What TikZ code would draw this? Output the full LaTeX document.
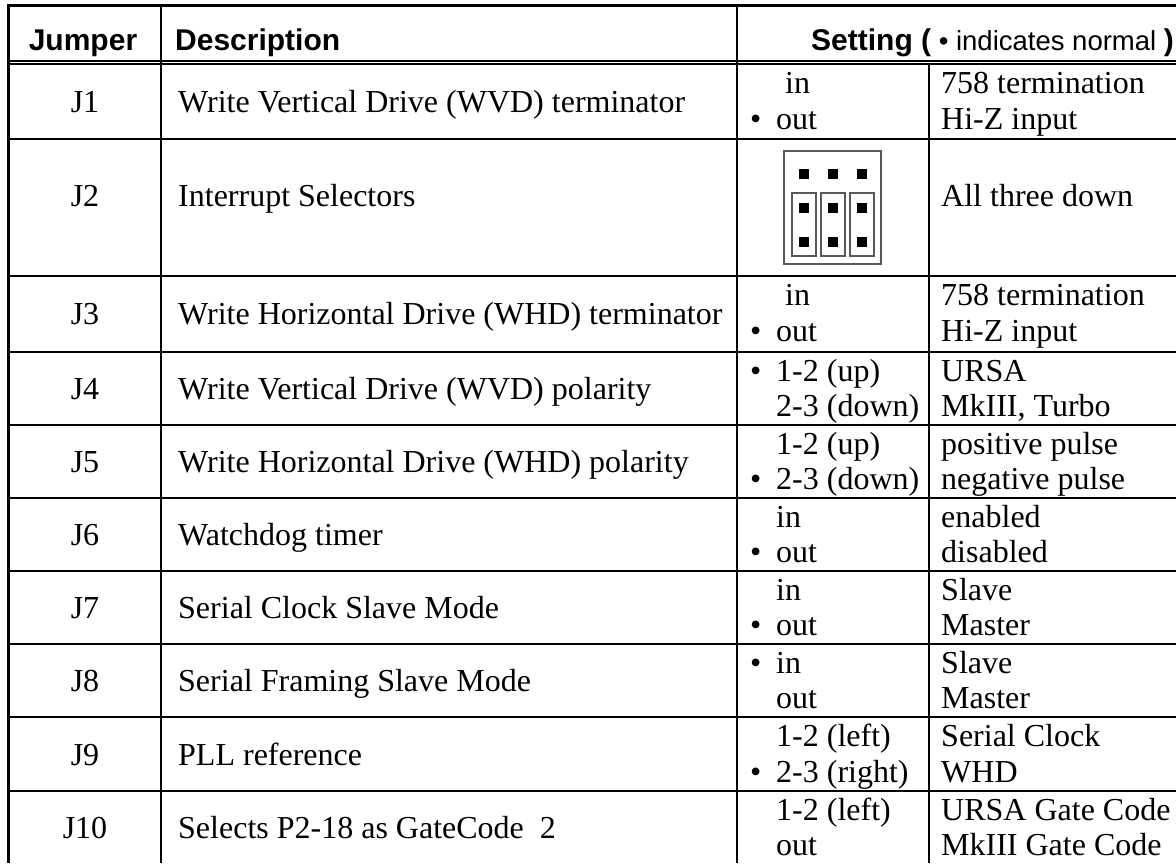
\documentclass[tikz,border=0pt]{standalone}
\usepackage{fontspec}
\setmainfont{Liberation Serif}
\setsansfont{Liberation Sans}
\newcommand{\bul}{\makebox[26pt][l]{•}}
\begin{document}
\begin{tikzpicture}[x=1pt,y=-1pt,
  thin line/.style={line width=1.1pt,black},
  thick border/.style={line width=3pt,black},
  body/.style={inner sep=0pt,font=\fontsize{32}{36}\selectfont},
  head/.style={inner sep=0pt,font=\fontsize{30}{34}\selectfont\sffamily},
  lbl/.style={body,anchor=base},
  txt/.style={body,anchor=base west},
  pinbox/.style={draw=black!65,line width=1.1pt},
  pin/.style={fill=black,minimum size=10pt,inner sep=0pt}
]
\useasboundingbox (0,0) rectangle (1176,863);
% outer thick border
\draw[thick border] (7,5.5) -- (1176,5.5);
\draw[thick border] (8.5,4) -- (8.5,863);
% header double line
\draw[thin line] (10,61) -- (1176,61);
\draw[thin line] (10,64) -- (1176,64);
% vertical lines
\draw[thin line] (161,7) -- (161,863);
\draw[thin line] (737,7) -- (737,863);
\draw[thin line] (929,64) -- (929,863);
% row lines
\foreach \yy in {139,276,352,425,498,571,644,717,791}
  \draw[thin line] (10,\yy) -- (1176,\yy);

% header
\node[head,anchor=base] (hJ) at (83,50) {\textbf{Jumper}};
\node[head,anchor=base west] (hD) at (175,50) {\textbf{Description}};
\node[head,anchor=base west] (hS) at (811,50) {\textbf{Setting (}{\fontsize{27.5}{30}\selectfont{} • indicates normal }\textbf{)}};

% J1
\node[lbl] (j1) at (85,112) {J1};
\node[txt] (d1) at (178,112) {Write Vertical Drive (WVD) terminator};
\node[txt] (s1a) at (785,93) {in};
\node[txt] (s1b) at (750,129) {\bul out};
\node[txt] (m1a) at (941,93) {758 termination};
\node[txt] (m1b) at (941,129) {Hi-Z input};

% J2
\node[lbl] (j2) at (85,206) {J2};
\node[txt] (d2) at (178,206) {Interrupt Selectors};
\node[txt] (m2) at (941,206) {All three down};
\draw[pinbox] (784,151) rectangle (881,264);
\draw[pinbox] (792,193) rectangle (816,256);
\draw[pinbox] (821,193) rectangle (845,256);
\draw[pinbox] (850,193) rectangle (874,256);
\foreach \px/\pn in {804/a,833/b,862/c}{
  \node[pin] (pt\pn) at (\px,174) {};
  \node[pin] (pm\pn) at (\px,208) {};
  \node[pin] (pb\pn) at (\px,242) {};
}

% J3
\node[lbl] (j3) at (85,324) {J3};
\node[txt] (d3) at (178,324) {Write Horizontal Drive (WHD) terminator};
\node[txt] (s3a) at (785,305) {in};
\node[txt] (s3b) at (750,341) {\bul out};
\node[txt] (m3a) at (941,305) {758 termination};
\node[txt] (m3b) at (941,341) {Hi-Z input};

% J4
\node[lbl] (j4) at (85,399) {J4};
\node[txt] (d4) at (178,399) {Write Vertical Drive (WVD) polarity};
\node[txt] (s4a) at (750,381) {\bul 1-2 (up)};
\node[txt] (s4b) at (776,416) {2-3 (down)};
\node[txt] (m4a) at (941,381) {URSA};
\node[txt] (m4b) at (941,416) {MkIII, Turbo};

% J5
\node[lbl] (j5) at (85,472) {J5};
\node[txt] (d5) at (178,472) {Write Horizontal Drive (WHD) polarity};
\node[txt] (s5a) at (776,454) {1-2 (up)};
\node[txt] (s5b) at (750,489) {\bul 2-3 (down)};
\node[txt] (m5a) at (941,454) {positive pulse};
\node[txt] (m5b) at (941,489) {negative pulse};

% J6
\node[lbl] (j6) at (85,545) {J6};
\node[txt] (d6) at (178,545) {Watchdog timer};
\node[txt] (s6a) at (776,527) {in};
\node[txt] (s6b) at (750,562) {\bul out};
\node[txt] (m6a) at (941,527) {enabled};
\node[txt] (m6b) at (941,562) {disabled};

% J7
\node[lbl] (j7) at (85,618) {J7};
\node[txt] (d7) at (178,618) {Serial Clock Slave Mode};
\node[txt] (s7a) at (776,600) {in};
\node[txt] (s7b) at (750,635) {\bul out};
\node[txt] (m7a) at (941,600) {Slave};
\node[txt] (m7b) at (941,635) {Master};

% J8
\node[lbl] (j8) at (85,691) {J8};
\node[txt] (d8) at (178,691) {Serial Framing Slave Mode};
\node[txt] (s8a) at (750,673) {\bul in};
\node[txt] (s8b) at (776,708) {out};
\node[txt] (m8a) at (941,673) {Slave};
\node[txt] (m8b) at (941,708) {Master};

% J9
\node[lbl] (j9) at (85,765) {J9};
\node[txt] (d9) at (178,765) {PLL reference};
\node[txt] (s9a) at (776,746) {1-2 (left)};
\node[txt] (s9b) at (750,782) {\bul 2-3 (right)};
\node[txt] (m9a) at (941,746) {Serial Clock};
\node[txt] (m9b) at (941,782) {WHD};

% J10
\node[lbl] (j10) at (85,838) {J10};
\node[txt] (d10) at (178,838) {Selects P2-18 as GateCode\ \ 2};
\node[txt] (s10a) at (776,820) {1-2 (left)};
\node[txt] (s10b) at (776,855) {out};
\node[txt] (m10a) at (941,820) {URSA Gate Code};
\node[txt] (m10b) at (941,855) {MkIII Gate Code};
\end{tikzpicture}
\end{document}
